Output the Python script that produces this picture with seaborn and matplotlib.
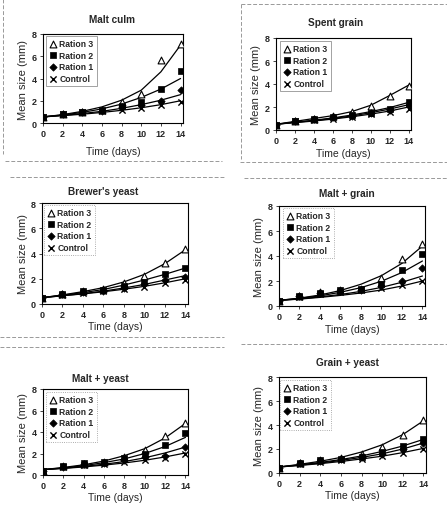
import numpy as np
import pandas as pd
import matplotlib
matplotlib.use("Agg")
import matplotlib.pyplot as plt
from matplotlib.lines import Line2D
import seaborn as sns

# days sampled
days = [0, 2, 4, 6, 8, 10, 12, 14]
series = ["Ration 3", "Ration 2", "Ration 1", "Control"]

malt_culm = {
    "Ration 3": [0.5, 0.8, 1.0, 1.2, 1.9, 2.6, 5.7, 7.1],
    "Ration 2": [0.5, 0.85, 1.0, 1.15, 1.55, 1.9, 3.1, 4.7],
    "Ration 1": [0.5, 0.8, 1.0, 1.1, 1.4, 1.6, 2.0, 3.0],
    "Control": [0.5, 0.8, 0.95, 1.05, 1.2, 1.35, 1.6, 1.9],
}
spent_grain = {
    "Ration 3": [0.45, 0.8, 1.0, 1.25, 1.6, 2.1, 3.0, 3.85],
    "Ration 2": [0.45, 0.8, 1.0, 1.15, 1.3, 1.5, 1.8, 2.45],
    "Ration 1": [0.45, 0.8, 0.95, 1.1, 1.25, 1.45, 1.7, 2.2],
    "Control": [0.45, 0.75, 0.9, 1.0, 1.15, 1.35, 1.6, 1.85],
}
brewers_yeast = {
    "Ration 3": [0.45, 0.8, 1.0, 1.2, 1.65, 2.2, 3.25, 4.35],
    "Ration 2": [0.45, 0.8, 1.0, 1.1, 1.45, 1.75, 2.35, 2.85],
    "Ration 1": [0.45, 0.8, 0.95, 1.05, 1.3, 1.55, 1.9, 2.15],
    "Control": [0.45, 0.75, 0.9, 1.0, 1.2, 1.35, 1.7, 1.9],
}
malt_grain = {
    "Ration 3": [0.4, 0.8, 1.1, 1.3, 1.4, 2.25, 3.8, 5.0],
    "Ration 2": [0.4, 0.8, 1.05, 1.25, 1.35, 1.75, 2.9, 4.15],
    "Ration 1": [0.4, 0.8, 1.05, 1.2, 1.3, 1.6, 2.0, 3.05],
    "Control": [0.4, 0.75, 1.0, 1.1, 1.3, 1.45, 1.65, 2.0],
}
malt_yeast = {
    "Ration 3": [0.35, 0.8, 1.0, 1.2, 1.7, 2.3, 3.6, 4.8],
    "Ration 2": [0.35, 0.8, 1.1, 1.2, 1.55, 2.0, 2.75, 3.9],
    "Ration 1": [0.35, 0.75, 1.05, 1.15, 1.4, 1.7, 1.8, 2.6],
    "Control": [0.35, 0.75, 0.95, 1.05, 1.2, 1.35, 1.6, 1.95],
}
grain_yeast = {
    "Ration 3": [0.45, 0.85, 1.1, 1.25, 1.6, 2.2, 3.2, 4.4],
    "Ration 2": [0.45, 0.8, 1.05, 1.2, 1.35, 1.75, 2.25, 2.8],
    "Ration 1": [0.45, 0.8, 1.0, 1.15, 1.3, 1.6, 2.0, 2.5],
    "Control": [0.45, 0.75, 0.95, 1.05, 1.2, 1.4, 1.65, 2.0],
}

# trend lines (at each day)
malt_culm_fit = {
    "Ration 3": [0.55, 0.75, 1.05, 1.45, 2.05, 2.95, 4.6, 7.0],
    "Ration 2": [0.55, 0.72, 0.95, 1.27, 1.7, 2.3, 3.05, 4.0],
    "Ration 1": [0.55, 0.68, 0.85, 1.05, 1.32, 1.65, 2.05, 2.55],
    "Control": [0.55, 0.66, 0.79, 0.95, 1.14, 1.37, 1.65, 2.0],
}
spent_grain_fit = {
    "Ration 3": [0.5, 0.75, 1.0, 1.25, 1.6, 2.15, 3.0, 3.9],
    "Ration 2": [0.5, 0.68, 0.85, 1.05, 1.3, 1.6, 1.95, 2.4],
    "Ration 1": [0.5, 0.66, 0.82, 1.0, 1.22, 1.5, 1.82, 2.2],
    "Control": [0.5, 0.64, 0.78, 0.95, 1.15, 1.38, 1.65, 2.0],
}
brewers_yeast_fit = {
    "Ration 3": [0.5, 0.72, 0.98, 1.3, 1.75, 2.35, 3.2, 4.3],
    "Ration 2": [0.5, 0.7, 0.9, 1.15, 1.5, 1.9, 2.35, 2.85],
    "Ration 1": [0.5, 0.66, 0.82, 1.02, 1.27, 1.55, 1.9, 2.25],
    "Control": [0.5, 0.65, 0.8, 0.97, 1.17, 1.4, 1.68, 2.0],
}
malt_grain_fit = {
    "Ration 3": [0.45, 0.63, 0.88, 1.24, 1.74, 2.43, 3.41, 4.8],
    "Ration 2": [0.45, 0.61, 0.81, 1.1, 1.47, 1.98, 2.68, 3.6],
    "Ration 1": [0.45, 0.57, 0.73, 0.92, 1.17, 1.49, 1.9, 2.4],
    "Control": [0.45, 0.55, 0.69, 0.85, 1.04, 1.28, 1.6, 2.0],
}
malt_yeast_fit = {
    "Ration 3": [0.5, 0.7, 0.95, 1.3, 1.8, 2.45, 3.45, 4.8],
    "Ration 2": [0.5, 0.66, 0.87, 1.15, 1.5, 2.0, 2.65, 3.5],
    "Ration 1": [0.5, 0.63, 0.8, 1.0, 1.25, 1.6, 2.05, 2.6],
    "Control": [0.5, 0.61, 0.75, 0.92, 1.12, 1.37, 1.68, 2.05],
}
grain_yeast_fit = {
    "Ration 3": [0.5, 0.72, 0.98, 1.3, 1.75, 2.35, 3.2, 4.35],
    "Ration 2": [0.5, 0.68, 0.88, 1.12, 1.42, 1.8, 2.25, 2.8],
    "Ration 1": [0.5, 0.65, 0.83, 1.05, 1.3, 1.6, 2.0, 2.5],
    "Control": [0.5, 0.63, 0.78, 0.96, 1.17, 1.4, 1.7, 2.05],
}

sns.set_style("white")
plt.rcParams["font.family"] = ["Liberation Sans", "DejaVu Sans"]

W, H = 447, 506
fig = plt.figure(figsize=(W / 100, H / 100), dpi=100)
fig.patch.set_facecolor("white")

def fx(px):
    return px / W

def fy(py):
    return 1 - py / H

# title, points, fit, axes box (l, t, r, b) px, title pos, xlabel y, ylabel x, legend anchor px
panels = [
    ("Malt culm", malt_culm, malt_culm_fit, (43, 35, 183, 124), (112, 20), 152, 23, (46, 37), "-"),
    ("Spent grain", spent_grain, spent_grain_fit, (276, 39, 411, 131), (336, 23), 154, 256, (280, 42), "-"),
    ("Brewer's yeast", brewers_yeast, brewers_yeast_fit, (42, 204, 188, 305), (103, 192), 327, 23, (44, 206), ":"),
    ("Malt + grain", malt_grain, malt_grain_fit, (279, 207, 425, 307), (347, 194), 330, 259, (283, 209), ":"),
    ("Malt + yeast", malt_yeast, malt_yeast_fit, (43, 390, 188, 476), (100, 379), 498, 23, (46, 393), ":"),
    ("Grain + yeast", grain_yeast, grain_yeast_fit, (279, 378, 426, 474), (347, 363), 496, 259, (280, 381), ":"),
]

styles = {
    "Ration 3": dict(marker="^", color="white", edgecolor="black", linewidth=0.8, s=24),
    "Ration 2": dict(marker="s", color="black", edgecolor="black", linewidth=0.5, s=16),
    "Ration 1": dict(marker="D", color="black", edgecolor="black", linewidth=0.5, s=14),
    "Control": dict(marker="x", color="black", linewidth=1.0, s=20),
}

for title, pts, fit, box, tpos, xly, ylx, leg, lstyle in panels:
    l, t, r, b = box
    ax = fig.add_axes([fx(l), fy(b), fx(r) - fx(l), fy(t) - fy(b)])
    for name in series:
        sns.lineplot(x=days, y=fit[name], color="black", linewidth=0.9, ax=ax, legend=False)
    for name in series:
        sns.scatterplot(x=days, y=pts[name], ax=ax, label=name, zorder=3, **styles[name])
    ax.set_xlim(0, 14.25)
    ax.set_ylim(0, 8)
    ax.set_xticks(range(0, 15, 2))
    ax.set_yticks(range(0, 9, 2))
    ax.set_xlabel("")
    ax.set_ylabel("")
    ax.tick_params(direction="out", length=2.5, width=0.6, labelsize=6.5, pad=2,
                   bottom=True, left=True)
    for lab in ax.get_xticklabels() + ax.get_yticklabels():
        lab.set_fontweight("bold")
    for sp in ax.spines.values():
        sp.set_color("black")
        sp.set_linewidth(0.8)
    # legend in axes fraction from pixel anchor
    ax_w, ax_h = r - l, b - t
    lg = ax.legend(loc="upper left",
                   bbox_to_anchor=((leg[0] - l) / ax_w, 1 - (leg[1] - t) / ax_h),
                   prop={"size": 6.2, "weight": "bold"}, frameon=True, fancybox=False,
                   borderpad=0.35, labelspacing=0.3, handletextpad=0.2,
                   handlelength=1.0, borderaxespad=0)
    fr = lg.get_frame()
    fr.set_edgecolor("#777777")
    fr.set_linewidth(0.6)
    fr.set_linestyle(lstyle)
    fig.text(fx(tpos[0]), fy(tpos[1]), title, ha="center", va="center",
             fontsize=7.2, fontweight="bold")
    fig.text(fx((l + r) / 2), fy(xly), "Time (days)", ha="center", va="center", fontsize=7.5)
    fig.text(fx(ylx), fy((t + b) / 2), "Mean size (mm)", ha="center", va="center",
             rotation=90, fontsize=8)

# scan frame remnants (grey dashed rules)
rules = [
    ((5, 222), (162, 162)), ((240, 447), (163, 163)),
    ((10, 224), (178, 178)), ((244, 447), (179, 179)),
    ((0, 224), (338, 338)), ((0, 224), (348, 348)),
    ((241, 447), (345, 345)), ((241, 447), (5, 5)),
    ((3, 3), (0, 155)), ((241, 241), (5, 160)),
]
for xs, ys in rules:
    fig.add_artist(Line2D([fx(xs[0]), fx(xs[1])], [fy(ys[0]), fy(ys[1])],
                          color="#999999", linewidth=0.7, linestyle=(0, (4, 2))))

fig.savefig("out.png", dpi=100, facecolor="white")
